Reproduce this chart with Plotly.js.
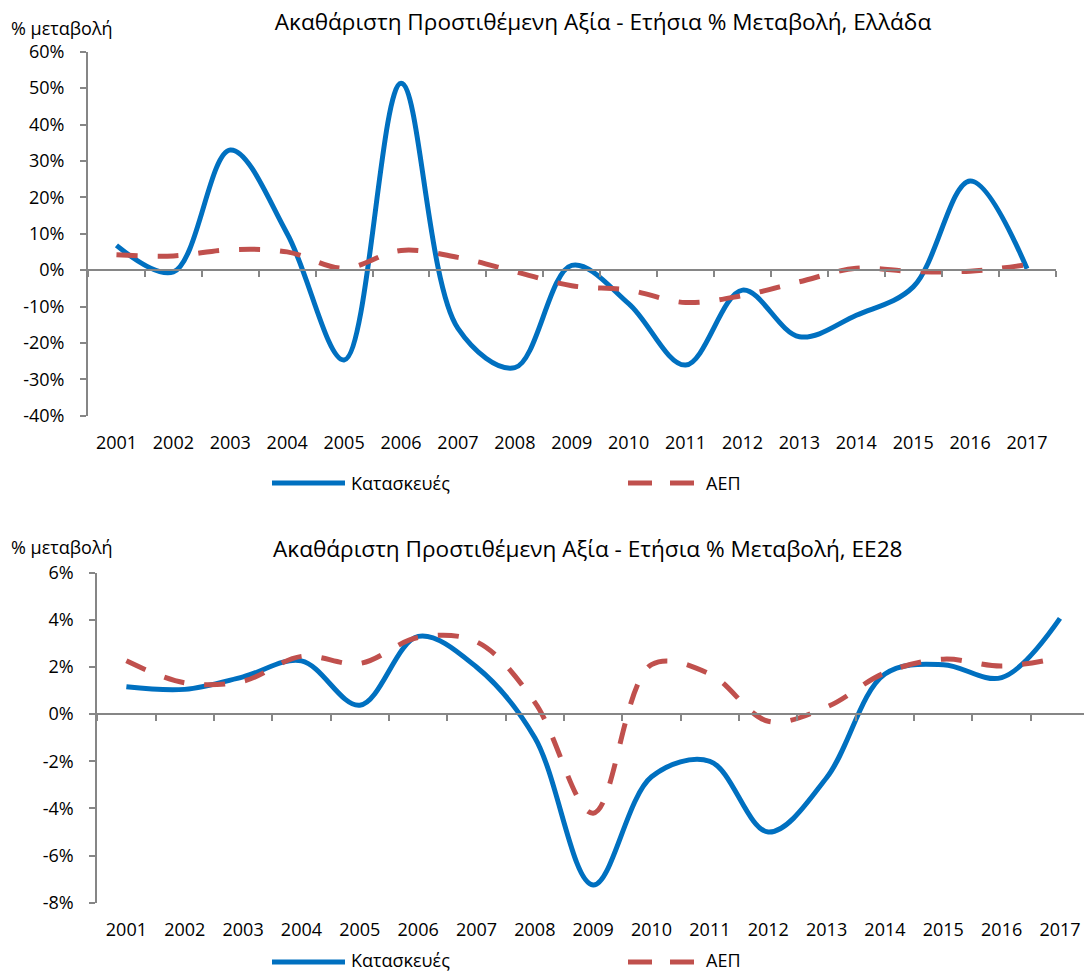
<!DOCTYPE html>
<html>
<head>
<meta charset="utf-8">
<script src="https://cdn.plot.ly/plotly-3.0.1.min.js"></script>
<style>html,body{margin:0;padding:0;background:#fff;} #chart{width:1084px;height:973px;}</style>
</head>
<body>
<div id="chart"></div>
<script>
// ---- data ----
const years = [2001,2002,2003,2004,2005,2006,2007,2008,2009,2010,2011,2012,2013,2014,2015,2016,2017];
const yearLabels = years.map(String);
const grConstruction = [6.8,-0.5,33.0,10.0,-24.7,51.3,-16.0,-26.8,1.3,-9.2,-26.1,-5.5,-18.3,-12.4,-4.6,24.5,0.4];
const grGDP = [4.2,3.9,5.6,5.0,0.5,5.4,3.5,-0.4,-4.3,-5.5,-8.9,-7.0,-3.2,0.5,-0.4,-0.3,1.5];
const euConstruction = [1.16,1.05,1.58,2.26,0.38,3.3,2.0,-1.0,-7.25,-2.66,-2.0,-5.0,-2.7,1.7,2.1,1.55,4.06];
const euGDP = [2.26,1.33,1.4,2.45,2.15,3.25,3.07,0.5,-4.2,2.1,1.7,-0.3,0.3,1.75,2.33,2.04,2.4];
const grTicks = [-40,-30,-20,-10,0,10,20,30,40,50,60];
const euTicks = [-8,-6,-4,-2,0,2,4,6];
const seriesNames = ['Κατασκευές','ΑΕΠ'];
const titleGR = 'Ακαθάριστη Προστιθέμενη Αξία - Ετήσια % Μεταβολή, Ελλάδα';
const titleEU = 'Ακαθάριστη Προστιθέμενη Αξία - Ετήσια % Μεταβολή, ΕΕ28';
const yLabel = '% μεταβολή';

// ---- styling / layout ----
const W = 1084, H = 973;
const FONT = 'Open Sans, sans-serif';
const BLUE = '#0070C0', RED = '#C0504D', GRAY = '#868686';
const px = v => v / W, py = v => 1 - v / H;

const topDomX = [px(88), px(1055.5)];
const topDomY = [py(415.7), py(51.7)];
const botDomX = [px(97.2), 1];
const botDomY = [py(902.7), py(572.7)];
const topRangeY = [-40, 60], botRangeY = [-8, 6];
const topRangeX = [2000.5, 2017.5];
const botRangeX = [2000.5, 2000.5 + (W - 97.2) / 58.35];
const zeroPos = (dom, rng) => dom[0] + (0 - rng[0]) / (rng[1] - rng[0]) * (dom[1] - dom[0]);
const boundaries = years.map(y => y - 0.5).concat([years[years.length - 1] + 0.5]);

function lineTrace(x, y, color, dash, width, xa, ya, name) {
  return {x: x, y: y, type: 'scatter', mode: 'lines', name: name, xaxis: xa, yaxis: ya,
    line: {color: color, width: width, shape: 'spline', smoothing: 1, dash: dash},
    showlegend: false, hoverinfo: 'x+y'};
}
const data = [
  lineTrace(years, grConstruction, BLUE, 'solid', 5, 'x', 'y', seriesNames[0]),
  lineTrace(years, grGDP, RED, '21px,20px', 5, 'x', 'y', seriesNames[1]),
  lineTrace(years, euConstruction, BLUE, 'solid', 5, 'x2', 'y2', seriesNames[0]),
  lineTrace(years, euGDP, RED, '21px,20px', 5, 'x2', 'y2', seriesNames[1]),
  {x: years, y: grGDP, xaxis: 'x3', yaxis: 'y', mode: 'none', type: 'scatter', showlegend: false, hoverinfo: 'skip'},
  {x: years, y: euGDP, xaxis: 'x4', yaxis: 'y2', mode: 'none', type: 'scatter', showlegend: false, hoverinfo: 'skip'}
];

const tickFont = {family: FONT, size: 18, color: '#000'};
function labelAxis(dom, rng, anchor) {
  return {domain: dom, range: rng, anchor: anchor, tickmode: 'array', tickvals: years, ticktext: yearLabels,
    showline: false, showgrid: false, zeroline: false, ticks: '', tickfont: tickFont,
    ticklabelstandoff: 14, automargin: false, fixedrange: true};
}
function zeroAxis(over, rng, pos) {
  return {overlaying: over, anchor: 'free', position: pos, range: rng, tickmode: 'array', tickvals: boundaries,
    showticklabels: false, showline: true, linecolor: GRAY, linewidth: 2, ticks: 'outside', ticklen: 6,
    tickcolor: GRAY, tickwidth: 2, showgrid: false, zeroline: false, automargin: false, fixedrange: true};
}
function valueAxis(dom, rng, ticks, anchor) {
  return {domain: dom, range: rng, anchor: anchor, tickmode: 'array', tickvals: ticks, ticktext: ticks.map(t => t + '%'),
    showline: true, linecolor: GRAY, linewidth: 2, ticks: 'outside', ticklen: 6, tickcolor: GRAY, tickwidth: 2,
    showgrid: false, zeroline: false, tickfont: tickFont, ticklabelstandoff: 12, automargin: false, fixedrange: true};
}

function legendShapes(yPix) {
  const y = py(yPix);
  return [
    {type: 'line', xref: 'paper', yref: 'paper', x0: px(272), x1: px(345), y0: y, y1: y, line: {color: BLUE, width: 5}},
    {type: 'line', xref: 'paper', yref: 'paper', x0: px(628), x1: px(652), y0: y, y1: y, line: {color: RED, width: 5}},
    {type: 'line', xref: 'paper', yref: 'paper', x0: px(670), x1: px(694), y0: y, y1: y, line: {color: RED, width: 5}}
  ];
}
function legendTexts(yPix) {
  const y = py(yPix);
  return [
    {xref: 'paper', yref: 'paper', x: px(349), y: y, xanchor: 'left', yanchor: 'middle', showarrow: false,
      text: seriesNames[0], font: {family: FONT, size: 18, color: '#000'}},
    {xref: 'paper', yref: 'paper', x: px(704), y: y, xanchor: 'left', yanchor: 'middle', showarrow: false,
      text: seriesNames[1], font: {family: FONT, size: 18, color: '#000'}}
  ];
}

const layout = {
  width: W, height: H, margin: {l: 0, r: 0, t: 0, b: 0}, paper_bgcolor: '#fff', plot_bgcolor: 'rgba(0,0,0,0)',
  showlegend: false,
  title: {text: titleGR, x: px(603), y: py(22), xref: 'paper', yref: 'paper', xanchor: 'center', yanchor: 'middle',
    font: {family: FONT, size: 22.6, color: '#000'}},
  xaxis: labelAxis(topDomX, topRangeX, 'y'),
  yaxis: valueAxis(topDomY, topRangeY, grTicks, 'x'),
  xaxis2: labelAxis(botDomX, botRangeX, 'y2'),
  yaxis2: valueAxis(botDomY, botRangeY, euTicks, 'x2'),
  xaxis3: zeroAxis('x', topRangeX, zeroPos(topDomY, topRangeY)),
  xaxis4: zeroAxis('x2', botRangeX, zeroPos(botDomY, botRangeY)),
  shapes: legendShapes(483).concat(legendShapes(962)),
  annotations: [
    {xref: 'paper', yref: 'paper', x: px(588), y: py(548), xanchor: 'center', yanchor: 'middle', showarrow: false,
      text: titleEU, font: {family: FONT, size: 22.6, color: '#000'}},
    {xref: 'paper', yref: 'paper', x: px(9), y: py(28), xanchor: 'left', yanchor: 'middle', showarrow: false,
      text: yLabel, font: {family: FONT, size: 18, color: '#000'}},
    {xref: 'paper', yref: 'paper', x: px(9), y: py(547), xanchor: 'left', yanchor: 'middle', showarrow: false,
      text: yLabel, font: {family: FONT, size: 18, color: '#000'}}
  ].concat(legendTexts(483)).concat(legendTexts(960))
};

Plotly.newPlot('chart', data, layout, {staticPlot: true, displayModeBar: false});
</script>
</body>
</html>
